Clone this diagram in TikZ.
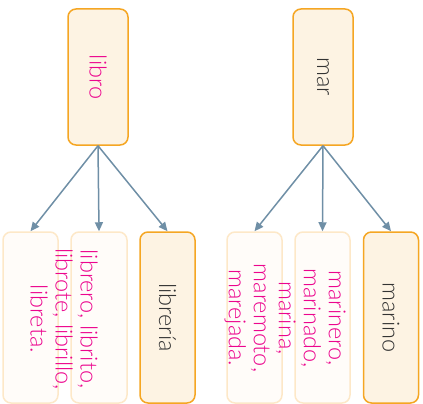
\documentclass[tikz,border=0pt]{standalone}
\usepackage{fontspec}
\setmainfont{Lato Light}
\usepackage{xcolor}
\usetikzlibrary{arrows.meta}
\definecolor{boxorange}{HTML}{F5A623}
\definecolor{boxfill}{HTML}{FDF3E3}
\definecolor{faintline}{HTML}{FDE8C8}
\definecolor{faintfill}{HTML}{FFFCF9}
\definecolor{linkblue}{HTML}{6F8FA6}
\definecolor{wordpink}{HTML}{EC058E}
\definecolor{worddark}{HTML}{333333}

\begin{document}
\begin{tikzpicture}[x=1pt,y=-1pt,
    wordbox/.style={draw=boxorange, line width=1.5pt, fill=boxfill, rounded corners=8pt, inner sep=0pt},
    faintbox/.style={draw=faintline, line width=1.5pt, fill=faintfill, rounded corners=8pt, inner sep=0pt},
    link/.style={draw=linkblue, line width=1.5pt, -{Triangle[length=9pt,width=8pt]}},
    wordtext/.style={rotate=-90, font=\fontsize{23.5}{25}\selectfont, align=center}]
    \useasboundingbox (0,0) rectangle (423,404);

    % libro
    \node[wordbox, minimum width=60pt, minimum height=136pt] (libro) at (98,77) {};
    \node[wordtext, text=wordpink] (librotext) at (libro) {libro};
    \node[faintbox, minimum width=55pt, minimum height=171pt] (librob1) at (30.5,317.5) {};
    \node[faintbox, minimum width=56pt, minimum height=171pt] (librob2) at (99,317.5) {};
    \node[wordbox, minimum width=55pt, minimum height=171pt] (libreria) at (167.5,317.5) {};
    \node[wordtext, text=worddark] (libreriatext) at (libreria) {librería};
    \node[wordtext, text=wordpink] (libroderiv) at (64,319) {librero, librito,\\librote, librillo,\\libreta.};
    \draw[link] (libro.south) -- (librob1.north);
    \draw[link] (libro.south) -- (librob2.north);
    \draw[link] (libro.south) -- (libreria.north);

    % mar
    \node[wordbox, minimum width=60pt, minimum height=136pt] (mar) at (323,77) {};
    \node[wordtext, text=worddark] (martext) at (mar) {mar};
    \node[faintbox, minimum width=55pt, minimum height=171pt] (marb1) at (254.5,317.5) {};
    \node[faintbox, minimum width=55pt, minimum height=171pt] (marb2) at (322.5,317.5) {};
    \node[wordbox, minimum width=55pt, minimum height=171pt] (marino) at (391,317.5) {};
    \node[wordtext, text=worddark] (marinotext) at (marino) {marino};
    \node[wordtext, text=wordpink] (marderiv) at (285,318) {marinero,\\marinado,\\marina,\\maremoto,\\marejada.};
    \draw[link] (mar.south) -- (marb1.north);
    \draw[link] (mar.south) -- (marb2.north);
    \draw[link] (mar.south) -- (marino.north);
\end{tikzpicture}
\end{document}
